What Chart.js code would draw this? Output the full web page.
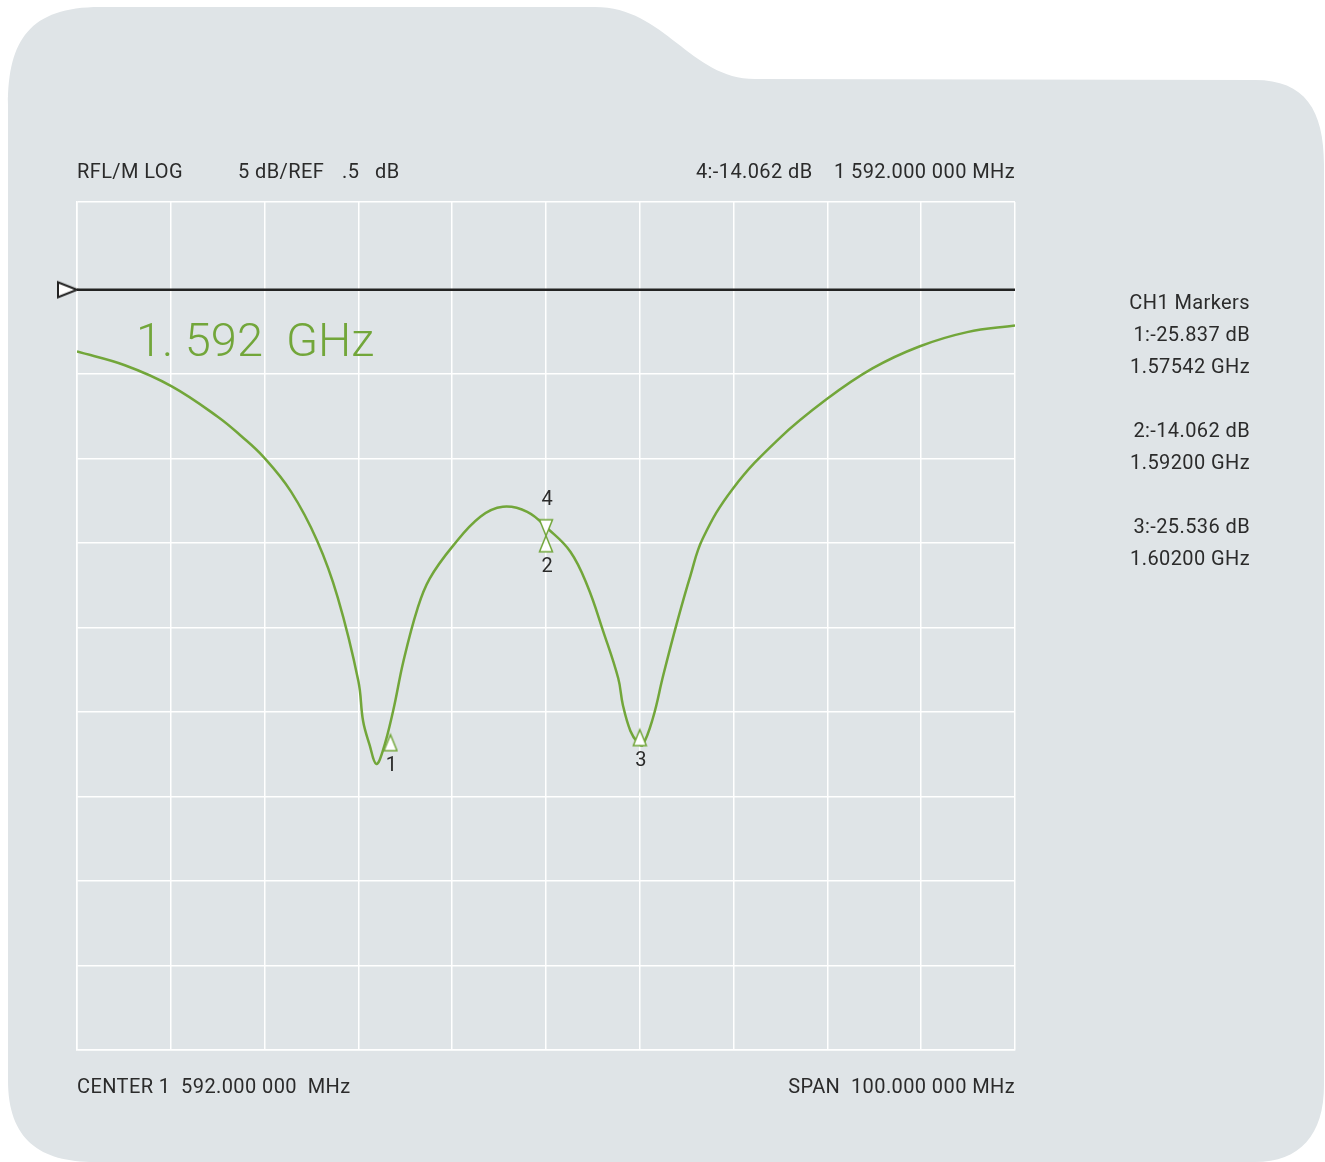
<!DOCTYPE html>
<html>
<head>
<meta charset="utf-8">
<title>RFL/M LOG</title>
<script src="https://cdn.jsdelivr.net/npm/chart.js@4.4.1/dist/chart.umd.min.js"></script>
<style>
  body { margin: 0; background: #fff; }
  #wrap { position: relative; width: 1325px; height: 1162px; font-family: Roboto, "Open Sans", sans-serif; color: #2b2b2b; }
  #myChart { position: absolute; left: 0; top: 0; }
  .t { position: absolute; font-size: 20px; line-height: 24px; white-space: pre; letter-spacing: 0.4px; }
  .side { position: absolute; right: 75px; font-size: 20px; line-height: 24px; white-space: pre; text-align: right; letter-spacing: 0.4px; }
  #bigLabel { position: absolute; left: 136px; top: 312px; font-size: 47px; line-height: 56px; font-weight: 300; color: #72a63a; white-space: pre; }
</style>
</head>
<body>
<div id="wrap">
  <canvas id="myChart" width="1325" height="1162"></canvas>

  <div class="t" style="left:77px; top:159px;">RFL/M LOG</div>
  <div class="t" style="left:238px; top:159px;">5 dB/REF</div>
  <div class="t" style="left:342px; top:159px;">.5</div>
  <div class="t" style="left:375px; top:159px;">dB</div>
  <div class="t" style="right:310px; top:159px;">4:-14.062 dB    1 592.000 000 MHz</div>

  <div class="t" style="left:77px; top:1074px;">CENTER 1  592.000 000  MHz</div>
  <div class="t" style="right:310px; top:1074px;">SPAN  100.000 000 MHz</div>

  <div class="side" style="top:290px;">CH1 Markers</div>
  <div class="side" style="top:322px;">1:-25.837 dB</div>
  <div class="side" style="top:354px;">1.57542 GHz</div>
  <div class="side" style="top:418px;">2:-14.062 dB</div>
  <div class="side" style="top:450px;">1.59200 GHz</div>
  <div class="side" style="top:514px;">3:-25.536 dB</div>
  <div class="side" style="top:546px;">1.60200 GHz</div>

  <div id="bigLabel">1. 592  GHz</div>
</div>

<script>
// sweep: center 1592 MHz, span 100 MHz, 5 dB/div, ref .5 dB
var freqMHz = [1542.0, 1547.1, 1552.1, 1557.0, 1559.5, 1561.9, 1564.8, 1567.6, 1569.8, 1572.0,
               1572.5, 1573.2, 1573.9, 1574.6, 1575.7, 1576.8, 1578.3, 1579.6, 1582.1, 1585.0,
               1587.4, 1590.0, 1592.2, 1594.6, 1596.4, 1598.1, 1599.7, 1600.2, 1601.0, 1601.8,
               1602.3, 1603.4, 1604.5, 1606.0, 1607.4, 1608.7, 1611.9, 1616.8, 1621.9, 1626.8,
               1631.8, 1636.9, 1642.0];
var traceDb = [-3.16, -3.97, -5.22, -7.02, -8.16, -9.41, -11.44, -14.36, -17.72, -22.67,
               -25.03, -26.45, -27.57, -26.80, -24.44, -21.49, -18.37, -16.60, -14.65, -12.94,
               -12.35, -12.65, -13.65, -15.01, -17.01, -19.72, -22.50, -24.09, -25.62, -26.33,
               -26.45, -24.85, -22.32, -19.13, -16.42, -14.24, -11.29, -8.34, -5.99, -4.16,
               -2.86, -2.01, -1.62];

var markerLabels = ["1", "2", "3", "4"];
var markerFreq = [1575.42, 1592.0, 1602.0, 1592.0];
var markerDb = [-25.837, -14.062, -25.536, -14.062];
var markerDir = ["up", "up", "up", "down"];

var refDb = 0.5;
var xMin = 1542, xMax = 1642, xStep = 10;
var yMin = -44.5, yTop = 5.69;
var yGrid = [-44.5, -39.5, -34.5, -29.5, -24.5, -19.5, -14.5, -9.5, -4.5, 0.5, 5.69];

var green = "#72a63a";

// triangle images with the tip at the image centre, so the tip sits on the value
function makeMarker(dir) {
  var c = document.createElement("canvas");
  c.width = 16; c.height = 38;
  var g = c.getContext("2d");
  g.beginPath();
  if (dir == "up") {
    g.moveTo(8, 19); g.lineTo(14.5, 35); g.lineTo(1.5, 35);
  } else {
    g.moveTo(8, 19); g.lineTo(14.5, 3); g.lineTo(1.5, 3);
  }
  g.closePath();
  g.fillStyle = "#fff"; g.fill();
  g.lineWidth = 1.5; g.strokeStyle = green; g.stroke();
  return c;
}
var upMark = makeMarker("up");
var downMark = makeMarker("down");

var refTri = document.createElement("canvas");
refTri.width = 44; refTri.height = 20;
(function () {
  var g = refTri.getContext("2d");
  g.beginPath();
  g.moveTo(22, 10); g.lineTo(3, 2.5); g.lineTo(3, 17.5);
  g.closePath();
  g.fillStyle = "#fff"; g.fill();
  g.lineWidth = 2; g.strokeStyle = "#222"; g.stroke();
})();

var panelBg = {
  id: "panelBg",
  beforeDraw: function (chart) {
    var c = chart.ctx;
    c.save();
    c.fillStyle = "#dfe4e7";
    c.beginPath();
    c.moveTo(8, 1080);
    c.lineTo(8, 105);
    c.bezierCurveTo(8, 40, 30, 7, 100, 7);
    c.lineTo(595, 7);
    c.bezierCurveTo(665, 7, 690, 79, 755, 79);
    c.lineTo(1255, 80);
    c.bezierCurveTo(1305, 80, 1324, 110, 1324, 165);
    c.lineTo(1324, 1085);
    c.bezierCurveTo(1324, 1135, 1300, 1162, 1255, 1162);
    c.lineTo(95, 1162);
    c.bezierCurveTo(40, 1162, 8, 1140, 8, 1080);
    c.closePath();
    c.fill();
    c.restore();
  }
};

var markerText = {
  id: "markerText",
  afterDatasetsDraw: function (chart) {
    var c = chart.ctx;
    var xs = chart.scales.x, ys = chart.scales.y;
    c.save();
    c.font = "20px Roboto";
    c.fillStyle = "#2b2b2b";
    c.textAlign = "center";
    c.textBaseline = "middle";
    for (var i = 0; i < markerLabels.length; i++) {
      var px = xs.getPixelForValue(markerFreq[i]);
      var py = ys.getPixelForValue(markerDb[i]);
      var dy = markerDir[i] == "up" ? 31 : -36;
      c.fillText(markerLabels[i], px + 1, py + dy);
    }
    c.restore();
  }
};

var ctx = document.getElementById("myChart").getContext("2d");
var myChart = new Chart(ctx, {
  type: "line",
  data: {
    datasets: [
      {
        label: "markers",
        data: markerFreq.map(function (f, i) { return { x: f, y: markerDb[i] }; }),
        showLine: false,
        pointStyle: markerDir.map(function (d) { return d == "up" ? upMark : downMark; }),
        pointRadius: 8,
        order: 0
      },
      {
        label: "S11",
        data: freqMHz.map(function (f, i) { return { x: f, y: traceDb[i] }; }),
        borderColor: green,
        borderWidth: 2.5,
        pointRadius: 0,
        tension: 0.4,
        order: 1
      },
      {
        label: "ref",
        data: [{ x: xMin, y: refDb }, { x: xMax, y: refDb }],
        borderColor: "#222",
        borderWidth: 2.5,
        pointStyle: [refTri, "circle"],
        pointRadius: [10, 0],
        clip: false,
        order: 2
      }
    ]
  },
  options: {
    responsive: false,
    animation: false,
    events: [],
    layout: { padding: { left: 77, right: 310, top: 202, bottom: 112 } },
    plugins: { legend: { display: false }, tooltip: { enabled: false } },
    scales: {
      x: {
        type: "linear",
        min: xMin,
        max: xMax,
        ticks: { display: false, stepSize: xStep },
        grid: { color: "#fff", lineWidth: 1.5, drawTicks: false },
        border: { color: "#fff", width: 1.5 }
      },
      y: {
        type: "linear",
        min: yMin,
        max: yTop,
        afterBuildTicks: function (scale) {
          scale.ticks = yGrid.map(function (v) { return { value: v }; });
        },
        ticks: { display: false },
        grid: { color: "#fff", lineWidth: 1.5, drawTicks: false },
        border: { color: "#fff", width: 1.5 }
      }
    }
  },
  plugins: [panelBg, markerText]
});
</script>
</body>
</html>
